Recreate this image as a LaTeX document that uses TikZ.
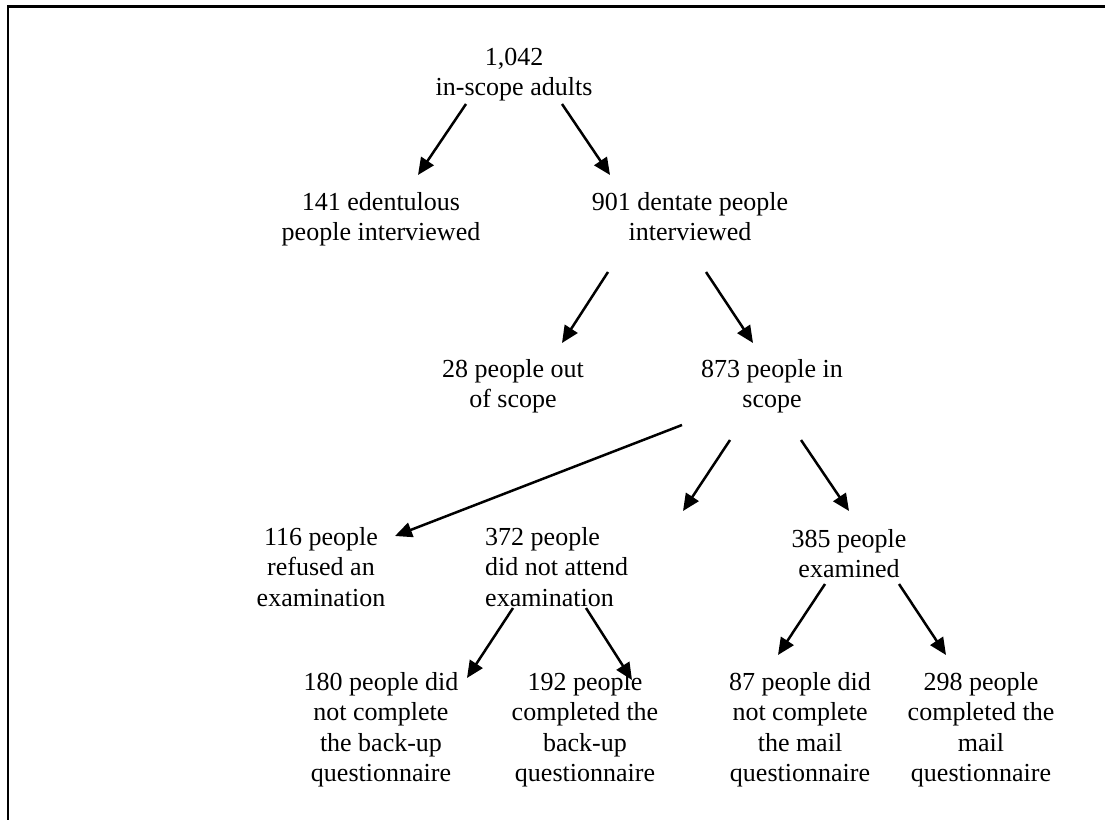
\documentclass[tikz,border=0pt]{standalone}
\usepackage{fontspec}
\setmainfont{Liberation Serif}
\usetikzlibrary{arrows.meta}
% fixed ascender on the first line so that a node's north lies 20pt above its first baseline
\newcommand\firstline{\rule{0pt}{20pt}}
\begin{document}
\begin{tikzpicture}[x=1pt,y=-1pt,
  box/.style={font=\fontsize{26}{30.5}\selectfont, align=center, inner sep=0pt, anchor=north},
  leftbox/.style={box, align=left, anchor=north west},
  flow/.style={-{Triangle[length=17pt,width=15pt]}, line width=2.5pt},
  frame/.style={line width=2.2pt, line join=miter}]
\useasboundingbox (0,0) rectangle (1105,819);

% frame: top and left edges
\draw[frame] (1110,6.5) -- (8,6.5) -- (8,825);

% tree of counts
\node[box] (adults) at (514,45) {\firstline 1,042\\in-scope adults};
\node[box] (edent) at (381,190) {\firstline 141 edentulous\\people interviewed};
\node[box] (dentate) at (690,190) {\firstline 901 dentate people\\interviewed};
\node[box] (outscope) at (513,357) {\firstline 28 people out\\of scope};
\node[box] (inscope) at (772,357) {\firstline 873 people in\\scope};
\node[box] (refused) at (321,525) {\firstline 116 people\\refused an\\examination};
\node[leftbox] (noattend) at (485,525) {\firstline 372 people\\did not attend\\examination};
\node[box] (examined) at (849,527) {\firstline 385 people\\examined};
\node[box] (backno) at (381,670) {\firstline 180 people did\\not complete\\the back-up\\questionnaire};
\node[box] (backyes) at (585,670) {\firstline 192 people\\completed the\\back-up\\questionnaire};
\node[box] (mailno) at (800,670) {\firstline 87 people did\\not complete\\the mail\\questionnaire};
\node[box] (mailyes) at (981,670) {\firstline 298 people\\completed the\\mail\\questionnaire};

% connectors
\draw[flow] ([shift={(-48,59)}]adults.north) -- ([shift={(37,-15)}]edent.north);
\draw[flow] ([shift={(48,59)}]adults.north) -- ([shift={(-80,-15)}]dentate.north);
\draw[flow] ([shift={(-82,82)}]dentate.north) -- ([shift={(49,-14)}]outscope.north);
\draw[flow] ([shift={(16,82)}]dentate.north) -- ([shift={(-19,-14)}]inscope.north);
\draw[flow] ([shift={(-90,68)}]inscope.north) -- ([shift={(74,11)}]refused.north);
\draw[flow] ([shift={(-42,83)}]inscope.north) -- ([shift={(198,-14)}]noattend.north west);
\draw[flow] ([shift={(29,83)}]inscope.north) -- ([shift={(0,-16)}]examined.north);
\draw[flow] ([shift={(28,83)}]noattend.north west) -- ([shift={(86,8)}]backno.north);
\draw[flow] ([shift={(101,83)}]noattend.north west) -- ([shift={(47,10)}]backyes.north);
\draw[flow] ([shift={(-24,57)}]examined.north) -- ([shift={(-22,-15)}]mailno.north);
\draw[flow] ([shift={(50,57)}]examined.north) -- ([shift={(-35,-15)}]mailyes.north);
\end{tikzpicture}
\end{document}
